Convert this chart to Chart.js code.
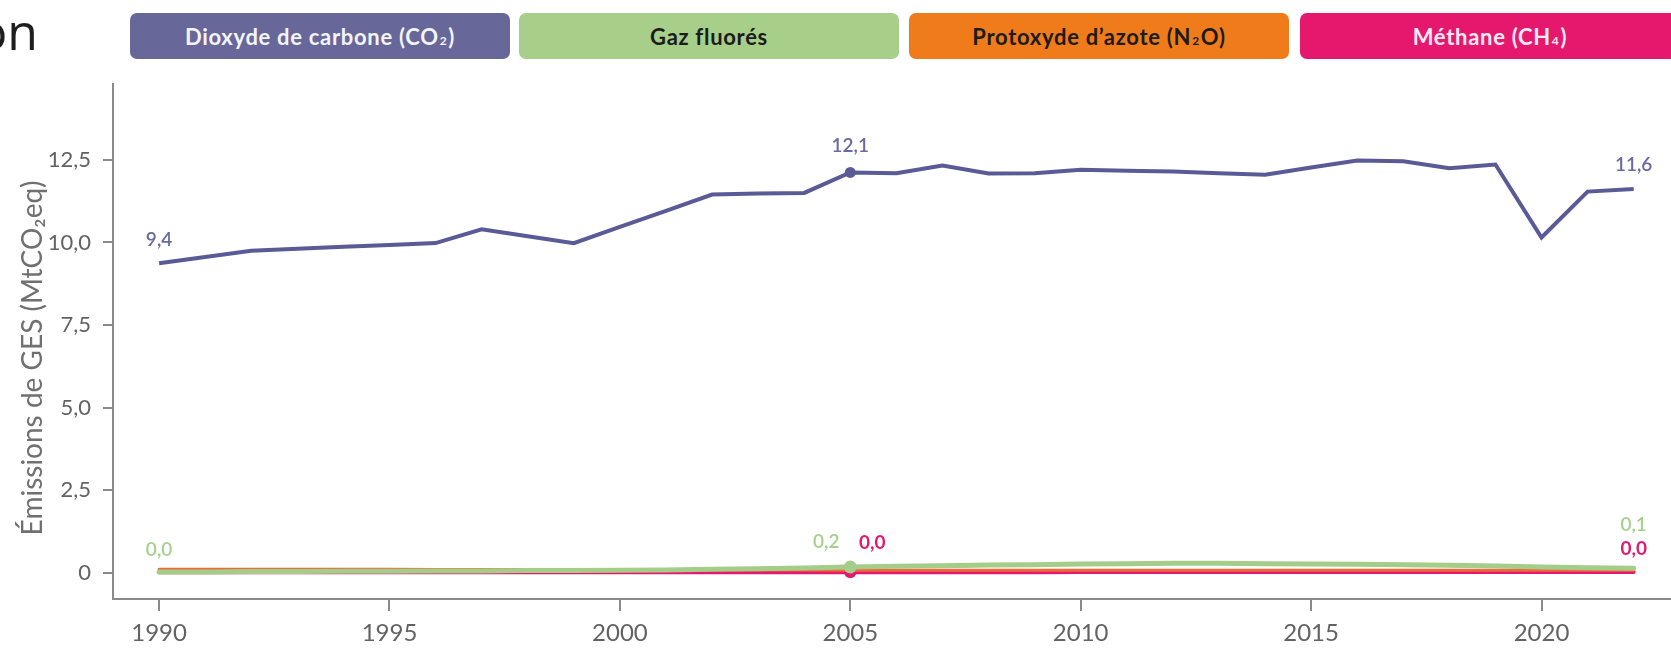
<!DOCTYPE html>
<html lang="fr">
<head>
<meta charset="utf-8">
<title>Émissions de GES par gaz</title>
<script src="https://cdn.jsdelivr.net/npm/chart.js@4.4.1/dist/chart.umd.min.js"></script>
<style>
  body {
    margin: 0;
    width: 1671px;
    height: 649px;
    overflow: hidden;
    background: #fff;
    position: relative;
    font-family: Lato, 'Noto Sans', sans-serif;
  }
  #title-cut {
    position: absolute;
    right: calc(1671px - 38px);
    top: 6px;
    font-family: 'Open Sans', sans-serif;
    font-size: 50px;
    line-height: 50px;
    color: #1e1e1e;
    white-space: nowrap;
  }
  .legend-box {
    position: absolute;
    top: 13px;
    height: 46px;
    width: 380px;
    border-radius: 7px;
    display: flex;
    align-items: center;
    justify-content: center;
    font-size: 22px;
    letter-spacing: 0.7px;
    font-weight: 700;
    white-space: nowrap;
  }
  .legend-box sub {
    font-size: 12px;
    vertical-align: baseline;
    position: relative;
    top: 5px;
    line-height: 0;
    margin: 0 1px;
  }
  #chart {
    position: absolute;
    left: 0;
    top: 0;
  }
</style>
</head>
<body>
<div id="title-cut">on</div>
<div id="legend"></div>
<canvas id="chart" width="1671" height="649"></canvas>

<script>
const years = [1990, 1991, 1992, 1993, 1994, 1995, 1996, 1997, 1998, 1999,
  2000, 2001, 2002, 2003, 2004, 2005, 2006, 2007, 2008, 2009,
  2010, 2011, 2012, 2013, 2014, 2015, 2016, 2017, 2018, 2019,
  2020, 2021, 2022];

const co2 = [9.37, 9.56, 9.75, 9.81, 9.87, 9.92, 9.98, 10.40, 10.19, 9.98,
  10.47, 10.96, 11.45, 11.48, 11.50, 12.12, 12.10, 12.33, 12.09, 12.10,
  12.20, 12.17, 12.15, 12.10, 12.05, 12.27, 12.48, 12.46, 12.25, 12.36,
  10.15, 11.54, 11.62];

const gazFluores = [0.02, 0.02, 0.03, 0.03, 0.04, 0.04, 0.05, 0.05, 0.06, 0.06,
  0.07, 0.08, 0.10, 0.12, 0.14, 0.17, 0.19, 0.21, 0.23, 0.24,
  0.26, 0.27, 0.28, 0.28, 0.27, 0.26, 0.25, 0.24, 0.22, 0.20,
  0.17, 0.15, 0.13];

const protoxydeAzote = [0.10, 0.10, 0.10, 0.10, 0.10, 0.10, 0.09, 0.09, 0.09, 0.09,
  0.09, 0.08, 0.08, 0.08, 0.08, 0.07, 0.07, 0.07, 0.07, 0.07,
  0.07, 0.07, 0.07, 0.07, 0.07, 0.07, 0.07, 0.07, 0.07, 0.07,
  0.07, 0.07, 0.07];

const methane = [0.01, 0.01, 0.01, 0.01, 0.01, 0.01, 0.01, 0.01, 0.01, 0.01,
  0.01, 0.01, 0.01, 0.01, 0.01, 0.01, 0.01, 0.01, 0.01, 0.01,
  0.02, 0.02, 0.02, 0.02, 0.02, 0.02, 0.02, 0.02, 0.02, 0.02,
  0.02, 0.02, 0.02];

const seriesNames = ['Dioxyde de carbone (CO<sub>2</sub>)', 'Gaz fluorés',
  'Protoxyde d’azote (N<sub>2</sub>O)', 'Méthane (CH<sub>4</sub>)'];

const xTicks = [1990, 1995, 2000, 2005, 2010, 2015, 2020];
const yTicks = [0, 2.5, 5, 7.5, 10, 12.5];
const yTickLabels = ['0', '2,5', '5,0', '7,5', '10,0', '12,5'];
const yTitle = 'Émissions de GES (MtCO₂eq)';

// years that get a dot, and years that get a value label
const markerYears = [2005];
const co2LabelYears = [1990, 2005, 2022];
const fluoresLabelYears = [1990, 2005, 2022];
const methaneLabelYears = [2005, 2022];

// legend boxes (html, outside the canvas)
const boxColors = ['#676799', '#a8cf8a', '#ef7b1b', '#e5186e'];
const boxTextColors = ['#f4f4f8', '#1c1c1c', '#1c1c1c', '#fbeaf1'];
const boxLefts = [130, 519, 909, 1300];

const legend = document.getElementById('legend');
seriesNames.forEach((name, i) => {
  const box = document.createElement('div');
  box.className = 'legend-box';
  box.style.left = boxLefts[i] + 'px';
  box.style.background = boxColors[i];
  box.style.color = boxTextColors[i];
  box.innerHTML = name;
  legend.appendChild(box);
});

const fmt = (v) => v.toFixed(1).replace('.', ',');
const toPoints = (values) => years.map((year, i) => ({ x: year, y: values[i] }));

const labelOffsets = {
  0: { 1990: [0, -23], 2005: [0, -27], 2022: [0, -24] },
  1: { 1990: [0, -22], 2005: [-24, -25], 2022: [0, -43] },
  3: { 2005: [22, -29], 2022: [0, -23] }
};
const labelYears = { 0: co2LabelYears, 1: fluoresLabelYears, 3: methaneLabelYears };
const labelStyles = {
  0: { color: '#6a6aa2', font: '600 19px Lato, sans-serif' },
  1: { color: '#a7d08c', font: '600 19px Lato, sans-serif' },
  3: { color: '#e5186e', font: '700 19px Lato, sans-serif' }
};

const valueLabels = {
  id: 'valueLabels',
  afterDatasetsDraw(chart) {
    const ctx = chart.ctx;
    ctx.save();
    ctx.textAlign = 'center';
    ctx.textBaseline = 'middle';
    Object.keys(labelYears).forEach((key) => {
      const di = Number(key);
      const meta = chart.getDatasetMeta(di);
      const values = chart.data.datasets[di].data;
      ctx.fillStyle = labelStyles[di].color;
      ctx.font = labelStyles[di].font;
      labelYears[di].forEach((year) => {
        const i = years.indexOf(year);
        const pt = meta.data[i];
        const off = labelOffsets[di][year];
        ctx.fillText(fmt(values[i].y), pt.x + off[0], pt.y + off[1]);
      });
    });
    ctx.restore();
  }
};

const yAxisTitle = {
  id: 'yAxisTitle',
  afterDraw(chart) {
    const ctx = chart.ctx;
    ctx.save();
    ctx.translate(42, 358);
    ctx.rotate(-Math.PI / 2);
    ctx.textAlign = 'center';
    ctx.textBaseline = 'alphabetic';
    ctx.font = '28px Lato, "Noto Sans", sans-serif';
    ctx.fillStyle = '#707070';
    ctx.fillText(yTitle, 0, 0);
    ctx.restore();
  }
};

const markerRadius = (r) => (ctx) => markerYears.includes(years[ctx.dataIndex]) ? r : 0;

const axisColor = '#8a8a8a';

new Chart(document.getElementById('chart'), {
  type: 'line',
  data: {
    datasets: [
      {
        label: 'Dioxyde de carbone (CO2)',
        data: toPoints(co2),
        borderColor: '#5a5a96',
        backgroundColor: '#5a5a96',
        borderWidth: 4,
        pointRadius: markerRadius(5.5),
        pointBorderWidth: 0
      },
      {
        label: 'Gaz fluorés',
        data: toPoints(gazFluores),
        borderColor: '#a3cd88',
        backgroundColor: '#a3cd88',
        borderWidth: 5,
        borderCapStyle: 'round',
        pointRadius: markerRadius(6.5),
        pointBorderWidth: 0
      },
      {
        label: 'Protoxyde d’azote (N2O)',
        data: toPoints(protoxydeAzote),
        borderColor: '#ec6a3a',
        backgroundColor: '#ec6a3a',
        borderWidth: 3,
        borderCapStyle: 'round',
        pointRadius: 0
      },
      {
        label: 'Méthane (CH4)',
        data: toPoints(methane),
        borderColor: '#e5186e',
        backgroundColor: '#e5186e',
        borderWidth: 4,
        borderCapStyle: 'round',
        pointRadius: markerRadius(6),
        pointBorderWidth: 0
      }
    ]
  },
  options: {
    responsive: false,
    animation: false,
    devicePixelRatio: 1,
    layout: {
      padding: { top: 84, left: 0, right: 0, bottom: 0 }
    },
    plugins: {
      legend: { display: false },
      tooltip: { enabled: false }
    },
    scales: {
      x: {
        type: 'linear',
        min: 1989,
        max: 2022.81,
        afterBuildTicks: (scale) => {
          scale.ticks = xTicks.map((v) => ({ value: v }));
        },
        afterFit: (scale) => {
          scale.height = 50;
        },
        ticks: {
          callback: (value) => String(value),
          color: '#626262',
          font: { family: 'Lato', size: 24 },
          padding: 8,
          maxRotation: 0
        },
        grid: {
          drawOnChartArea: false,
          color: axisColor,
          lineWidth: 2,
          tickLength: 12
        },
        border: { display: true, color: axisColor, width: 2 }
      },
      y: {
        min: -0.8,
        max: 14.8,
        afterBuildTicks: (scale) => {
          scale.ticks = yTicks.map((v) => ({ value: v }));
        },
        afterFit: (scale) => {
          scale.width = 113;
        },
        ticks: {
          callback: (value) => yTickLabels[yTicks.indexOf(value)],
          color: '#626262',
          font: { family: 'Lato', size: 22 },
          padding: 12
        },
        grid: {
          drawOnChartArea: false,
          color: axisColor,
          lineWidth: 2,
          tickLength: 10
        },
        border: { display: true, color: axisColor, width: 2 }
      }
    }
  },
  plugins: [valueLabels, yAxisTitle]
});
</script>
</body>
</html>
